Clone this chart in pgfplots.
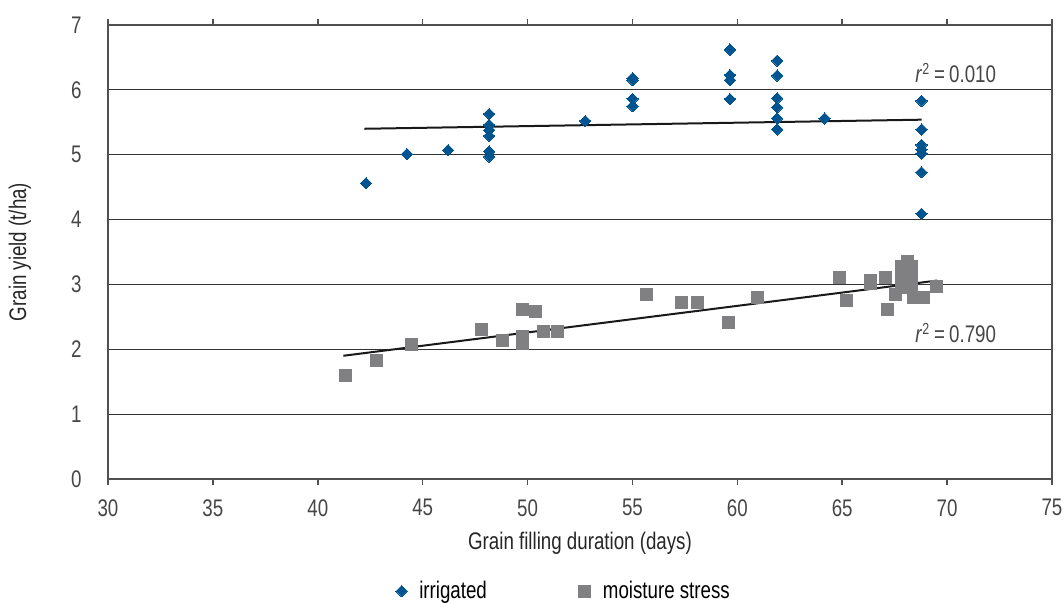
\documentclass[border=0pt]{standalone}
\usepackage{pgfplots}
\pgfplotsset{compat=1.18}
\usepackage{fontspec}
\setmainfont[FakeStretch=0.78]{Liberation Sans}

\definecolor{irrblue}{RGB}{0,85,145}
\definecolor{stressgray}{RGB}{128,128,131}
\definecolor{framegray}{RGB}{80,80,80}
\definecolor{txtgray}{RGB}{70,70,70}

\begin{document}
\fontsize{12}{14}\selectfont
\begin{tikzpicture}
\begin{axis}[
    name=ax,
    scale only axis,
    width=472pt,
    height=227pt,
    xmin=30, xmax=75,
    ymin=0, ymax=7,
    xtick={30,35,...,75},
    ytick={0,1,...,7},
    /pgf/number format/assume math mode=true,
    axis line style={framegray, line width=0.9pt},
    ymajorgrids,
    grid style={black!80, line width=0.6pt},
    xtick style={framegray, line width=0.8pt},
    tick align=outside,
    major tick length=3pt,
    ytick style={draw=none},
    ticklabel style={txtgray, font=\fontsize{12}{14}\selectfont},
    xticklabel style={yshift=-3pt},
    yticklabel style={xshift=-6pt},
    xlabel={Grain filling duration (days)},
    ylabel={Grain yield (t/ha)},
    label style={black!85, font=\fontsize{12}{14}\selectfont},
    xlabel style={at={(axis description cs:0.5,-0.141)}, anchor=center},
    ylabel style={at={(axis description cs:-0.0932,0.5)}, anchor=center},
    legend columns=2,
    legend style={at={(axis description cs:0.484,-0.247)}, anchor=center,
        draw=none, fill=none, font=\fontsize{12}{14}\selectfont,
        /tikz/every odd column/.append style={column sep=4pt},
        /tikz/every even column/.append style={column sep=44pt}},
    legend cell align=left,
]
% irrigated
\addplot[irrblue, only marks, mark=square*, mark size=2pt,
    mark options={rotate=45, fill=irrblue, draw=irrblue, line width=0pt}] coordinates {
    (42.30,4.56) (44.25,5.01) (46.21,5.07)
    (48.17,5.63) (48.17,5.46) (48.17,5.38) (48.17,5.29) (48.17,5.05) (48.17,4.97)
    (52.75,5.52)
    (55.01,6.18) (55.01,6.15) (55.01,5.86) (55.01,5.75)
    (59.65,6.62) (59.65,6.23) (59.65,6.15) (59.65,5.86)
    (61.90,6.45) (61.90,6.22) (61.90,5.87) (61.90,5.73) (61.90,5.56) (61.90,5.39)
    (64.16,5.56)
    (68.78,5.83) (68.78,5.39) (68.78,5.15) (68.78,5.08) (68.78,5.02) (68.78,4.73) (68.78,4.09)
};
\addlegendentry{irrigated}
% moisture stress
\addplot[stressgray, only marks, mark=square*, mark size=3pt,
    mark options={fill=stressgray, draw=stressgray, line width=0pt}] coordinates {
    (41.30,1.59) (42.81,1.82) (44.48,2.07) (47.81,2.30) (48.81,2.13)
    (49.77,2.62) (49.77,2.19) (49.77,2.09) (50.40,2.58) (50.78,2.27)
    (51.43,2.27) (55.68,2.85) (57.35,2.72) (58.10,2.72) (59.60,2.41)
    (60.97,2.80) (64.89,3.10) (65.21,2.75) (66.33,3.06) (66.33,3.01)
    (67.08,3.10) (67.15,2.62) (67.56,2.84) (68.12,3.35) (67.83,3.27)
    (67.83,3.18) (67.83,3.02) (68.31,3.27) (68.31,3.18) (68.31,2.99)
    (68.38,2.80) (68.86,2.80) (69.50,2.97) (68.00,2.95) (68.10,3.30)
};
\addlegendentry{moisture stress}
% trend lines
\addplot[black!90, line width=1pt, forget plot] coordinates {(42.22,5.40) (68.78,5.54)};
\addplot[black!90, line width=1pt, forget plot] coordinates {(41.22,1.90) (69.53,3.06)};
\node[anchor=west, inner sep=0pt, txtgray] at (axis cs:68.47,6.26) {\textit{r}\textsuperscript{2}\,=\,0.010};
\node[anchor=west, inner sep=0pt, txtgray] at (axis cs:68.47,2.25) {\textit{r}\textsuperscript{2}\,=\,0.790};
\end{axis}
\pgfresetboundingbox
\path (-54pt,-62pt) rectangle (478pt,239.5pt);
\end{tikzpicture}
\end{document}
